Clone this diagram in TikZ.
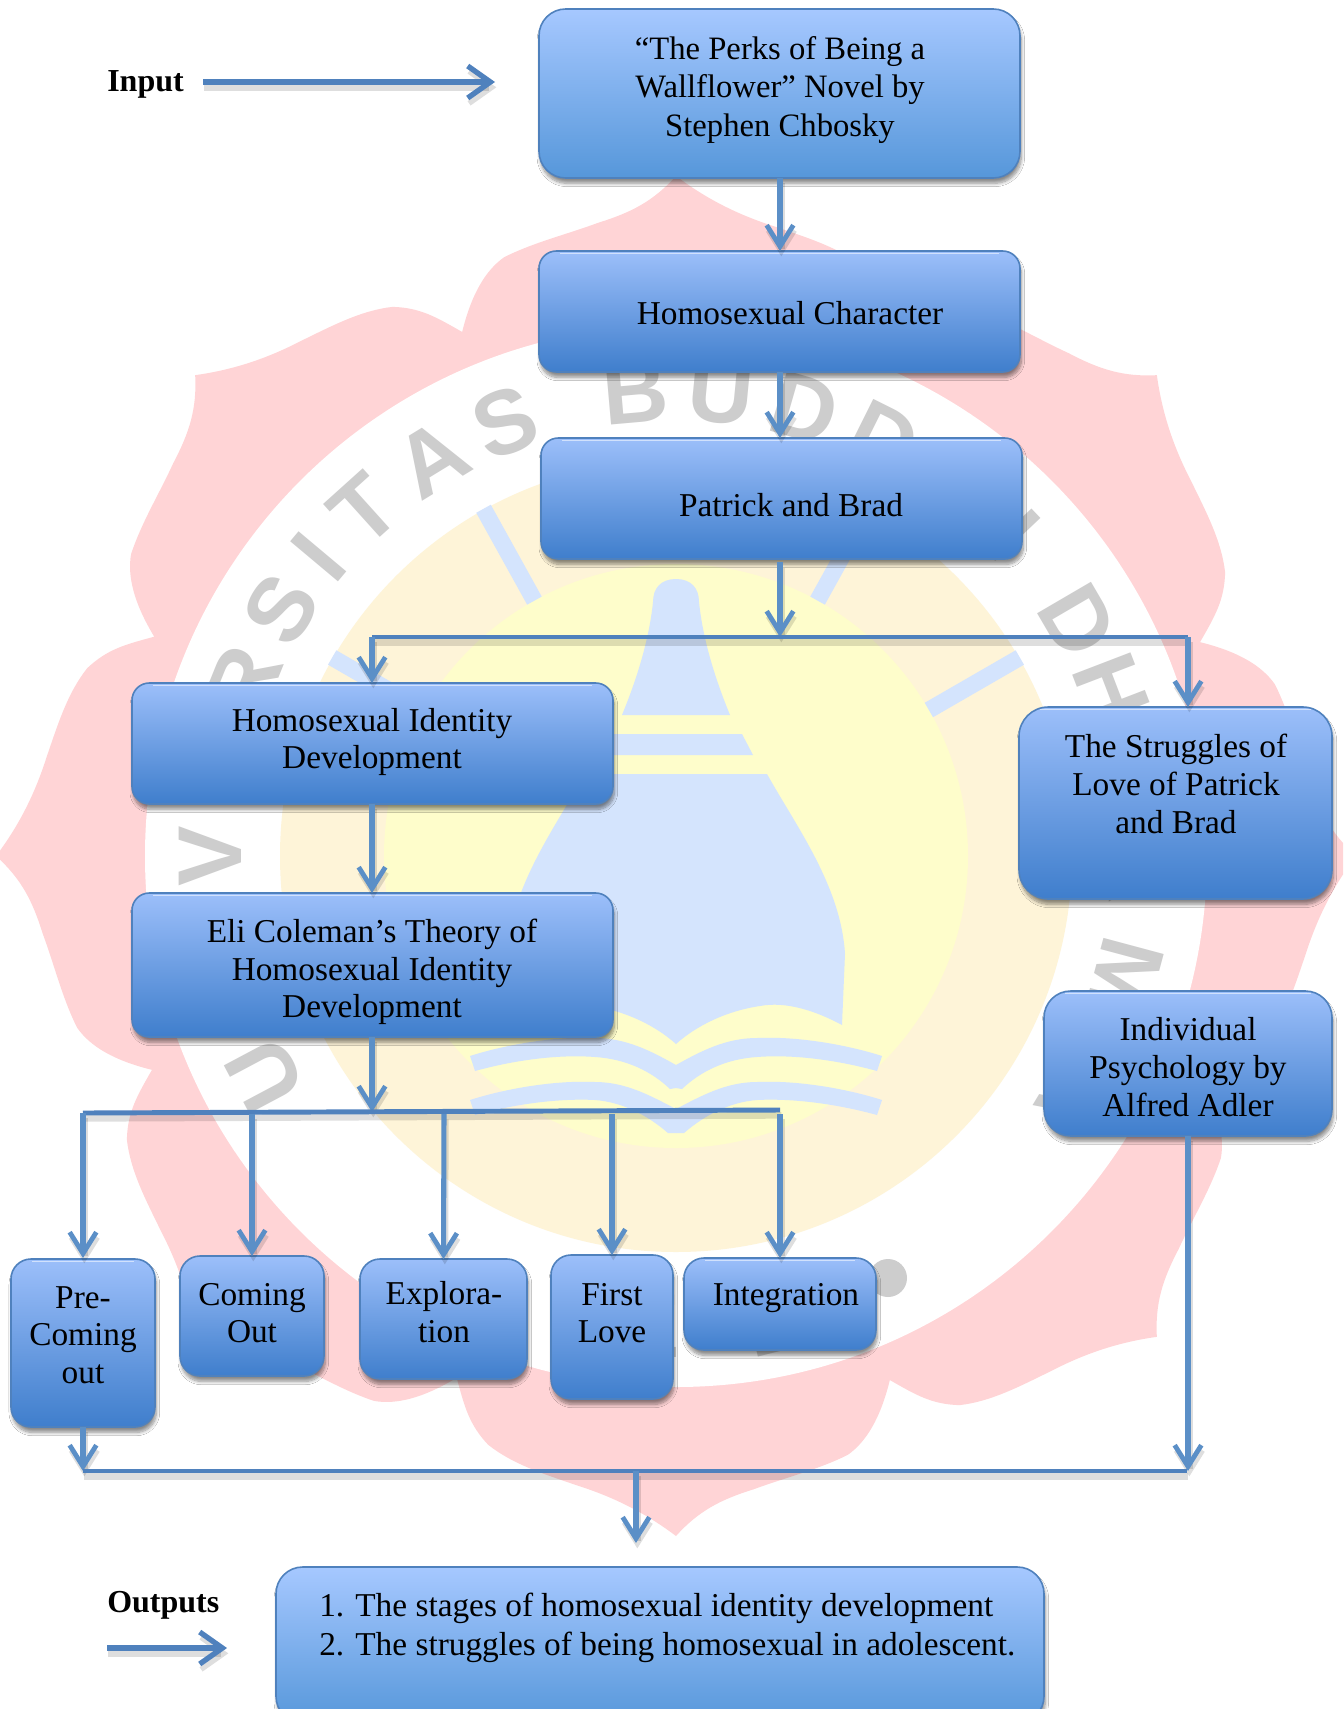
\documentclass[tikz,border=0pt]{standalone}
\usepackage{fontspec}
\setmainfont{Liberation Serif}
\newfontfamily\wmfont{Liberation Sans}
\usetikzlibrary{arrows.meta,shadows.blur}
\definecolor{sealpink}{HTML}{FFD4D6}
\definecolor{cream}{HTML}{FEF4D8}
\definecolor{paleyel}{HTML}{FEFDCB}
\definecolor{paleblue}{HTML}{D4E4FD}
\definecolor{wmgray}{HTML}{CDCDCD}
\definecolor{edge}{HTML}{4F81BD}
\definecolor{conn}{HTML}{5B8FC7}
\definecolor{boxtop}{HTML}{9CBFFA}
\definecolor{boxbot}{HTML}{3F7ECC}
\definecolor{lighttop}{HTML}{A6C8FF}
\definecolor{lightbot}{HTML}{5697DA}
\tikzset{
  x=0.75pt,y=-0.75pt,
  basebox/.style={draw=edge,line width=1.2pt,inner sep=0pt,outer sep=0pt,anchor=north west,
    blur shadow={shadow xshift=1pt,shadow yshift=-4pt,shadow blur radius=2.5pt,shadow blur steps=8,shadow opacity=45}},
  flowbox/.style={basebox,top color=boxtop,bottom color=boxbot,rounded corners=13pt},
  softbox/.style={basebox,top color=lighttop,bottom color=lightbot,rounded corners=20pt},
  txt/.style={align=center,inner sep=0pt,text=black,font=\fontsize{25pt}{28.2pt}\selectfont},
  toptxt/.style={align=center,inner sep=0pt,text=black,font=\fontsize{24.5pt}{28.6pt}\selectfont},
  txtl/.style={align=left,inner sep=0pt,text=black,font=\fontsize{25pt}{28.8pt}\selectfont},
  headtxt/.style={inner sep=0pt,anchor=west,text=black,font=\fontsize{24pt}{26pt}\selectfont\bfseries},
  wm/.style={text=wmgray,inner sep=0pt,font=\wmfont\bfseries\fontsize{68pt}{68pt}\selectfont},
  shadowed/.style={preaction={draw=black,draw opacity=.13,line width=5pt,transform canvas={xshift=1pt,yshift=-4pt}}},
  bar/.style={draw=edge,line width=3.7pt,shadowed},
  arr/.style={draw=conn,line width=3.8pt,shadowed,-{Straight Barb[length=16pt,width=20pt,line width=3.6pt]}},
  bigarr/.style={draw=edge,line width=4.2pt,shadowed,-{Straight Barb[length=17pt,width=24pt,line width=4pt]}},
  gloss/.style={draw=white,draw opacity=.55,line width=.7pt},
}
\begin{document}
\begin{tikzpicture}
\useasboundingbox (0,0) rectangle (1343,1709);
\clip (0,0) rectangle (1343,1709);
\fill[white] (0,0) rectangle (1343,1709);
% ---------- watermark seal
\begin{scope}[shift={(676,856)},x=0.75pt,y=0.75pt]
\fill[sealpink] (90:680) \foreach \a in {90,135,...,405}{
  .. controls ({\a+2}:655) and ({\a+4}:645) .. ({\a+7}:638)
  .. controls ({\a+10}:631) and ({\a+13}:630) .. ({\a+16}:623)
  .. controls ({\a+18}:616) and ({\a+20}:598) .. ({\a+22.2}:566)
  .. controls ({\a+24}:590) and ({\a+25}:605) .. ({\a+27.3}:618)
  .. controls ({\a+30}:630) and ({\a+33}:632) .. ({\a+36}:637)
  .. controls ({\a+39}:643) and ({\a+42}:655) .. ({\a+45}:680)
} -- cycle;
\fill[white] (0,0) circle (531);
\foreach \r/\l in {118/U,107/N,98/I,90/V,79/E,68/R,58/S,50/I,42/T,31.5/A,21.5/S,5/B,-5.5/U,-16/D,-26.5/D,-37/H,-46.5/I,-59.7/D,-69/H,-79/A,-92/R,-105/M,-121/A}
  \node[wm,rotate=\r] at ({90+\r}:466) {\l};
\fill[wmgray] (212,-422) circle (19);
\fill[cream] (0,0) circle (396);
\fill[paleyel] (0,0) circle (292);
\foreach \t in {29,60,-29,-60}
  \draw[paleblue,line width=12.5pt] ({90+\t}:292) -- ({90+\t}:397);
% stupa
\fill[paleblue] (0,277) .. controls (-15,277) and (-23,268) .. (-23,254)
  .. controls (-27,215) and (-40,175) .. (-54,141) -- (54,141)
  .. controls (40,175) and (27,215) .. (23,254)
  .. controls (23,268) and (15,277) .. (0,277) -- cycle;
\fill[paleblue] (-66,122) -- (66,122) -- (77,101) -- (-77,101) -- cycle;
\fill[paleblue] (-91,82) -- (91,82)
  .. controls (120,30) and (165,-30) .. (169,-98)
  -- (166,-169) .. controls (140,-155) and (110,-145) .. (84,-150)
  .. controls (50,-155) and (20,-170) .. (0,-188)
  .. controls (-20,-170) and (-50,-155) .. (-84,-150)
  .. controls (-110,-145) and (-140,-155) .. (-166,-169)
  -- (-169,-98) .. controls (-165,-30) and (-120,30) .. (-91,82) -- cycle;
% book
\foreach \s in {1,-1}{
  \fill[paleblue] (0,-209) .. controls (\s*25,-195) and (\s*50,-182) .. (\s*81,-182)
     .. controls (\s*125,-180) and (\s*175,-190) .. (\s*206,-200)
     -- (\s*201,-215) .. controls (\s*165,-205) and (\s*120,-198) .. (\s*81,-201)
     .. controls (\s*50,-203) and (\s*25,-215) .. (\s*6,-233) -- (0,-232) -- cycle;
  \fill[paleblue] (0,-253) .. controls (\s*25,-240) and (\s*50,-226) .. (\s*81,-226)
     .. controls (\s*125,-224) and (\s*175,-234) .. (\s*206,-244)
     -- (\s*201,-259) .. controls (\s*165,-249) and (\s*120,-242) .. (\s*81,-244)
     .. controls (\s*55,-246) and (\s*30,-258) .. (\s*8,-277) -- (0,-277) -- cycle;
}
\end{scope}
% fragments of the lettering at the foot of the seal
\node[wm] (wmE) at (650,1326) {E};
\node[wm,rotate=14] (wmL) at (772,1322) {L};
% ---------- boxes
\node[softbox,minimum width=481*0.75pt,minimum height=169*0.75pt] (top) at (539,9) {};
\node[flowbox,minimum width=481*0.75pt,minimum height=121*0.75pt] (hc) at (539,251) {};
\node[flowbox,minimum width=481*0.75pt,minimum height=121*0.75pt] (pb) at (541,438) {};
\node[flowbox,minimum width=481*0.75pt,minimum height=121*0.75pt] (hid) at (132,683) {};
\node[flowbox,minimum width=481*0.75pt,minimum height=144*0.75pt] (eli) at (132,893) {};
\node[flowbox,rounded corners=22pt,minimum width=313*0.75pt,minimum height=192*0.75pt] (sl) at (1019,707) {};
\node[flowbox,rounded corners=20pt,minimum width=288*0.75pt,minimum height=145*0.75pt] (ip) at (1044,991) {};
\node[flowbox,rounded corners=15pt,minimum width=144*0.75pt,minimum height=168*0.75pt] (pre) at (11,1259) {};
\node[flowbox,rounded corners=15pt,minimum width=144*0.75pt,minimum height=120*0.75pt] (co) at (180,1256) {};
\node[flowbox,rounded corners=15pt,minimum width=167*0.75pt,minimum height=120*0.75pt] (ex) at (360,1259) {};
\node[flowbox,rounded corners=15pt,minimum width=122*0.75pt,minimum height=144*0.75pt] (fl) at (551,1255) {};
\node[flowbox,rounded corners=15pt,minimum width=192*0.75pt,minimum height=92*0.75pt] (ig) at (684,1258) {};
\node[softbox,minimum width=768*0.75pt,minimum height=156*0.75pt] (out) at (276,1567) {};
% thin highlight under the top edge of the boxes
\foreach \b in {hc,pb,hid,eli,sl,ip,pre,ig}
  \draw[gloss] ([xshift=16pt,yshift=-2.2pt]\b.north west) -- ([xshift=-16pt,yshift=-2.2pt]\b.north east);
% ---------- box texts
\node[toptxt] (ttop) at (780,90) {“The Perks of Being a\\Wallflower” Novel by\\Stephen Chbosky};
\node[txt] (thc) at (790,313) {Homosexual Character};
\node[txt] (tpb) at (791,505) {Patrick and Brad};
\node[txt] (thid) at (372,742) {Homosexual Identity\\Development};
\node[txt] (teli) at (372,972) {Eli Coleman’s Theory of\\Homosexual Identity\\Development};
\node[txt] (tsl) at (1176,784) {The Struggles of\\Love of Patrick\\and Brad};
\node[txt] (tip) at (1188,1067) {Individual\\Psychology by\\Alfred Adler};
\node[txt] (tpre) at (83,1335) {Pre-\\Coming\\out};
\node[txt] (tco) at (252,1313) {Coming\\Out};
\node[txt] (tex) at (444,1312) {Explora-\\tion};
\node[txt] (tfl) at (612,1313) {First\\Love};
\node[txt] (tig) at (786,1298) {Integration};
\node[txtl,anchor=west] (tout) at (319,1628) {1. The stages of homosexual identity development\\2. The struggles of being homosexual in adolescent.};
\node[headtxt] (input) at (107,84) {Input};
\node[headtxt] (outputs) at (107,1605) {Outputs};
% ---------- free connector ends
\coordinate (inA) at (203,82);
\coordinate (inB) at (495,82);
\coordinate (outA) at (107,1648);
\coordinate (outB) at (227,1648);
\coordinate (j1) at (780,637);
\coordinate (j1l) at (372,637);
\coordinate (j1r) at (1188,637);
\coordinate (j2) at (372,1112);
\coordinate (j2l) at (83,1113);
\coordinate (j2r) at (780,1110);
\coordinate (j3l) at (83,1471);
\coordinate (j3m) at (636,1471);
\coordinate (j3r) at (1187,1471);
\coordinate (j3t) at (636,1543);
% ---------- connectors
\draw[bigarr] (inA) -- (inB);
\draw[bigarr] (outA) -- (outB);
\draw[arr] (top.south -| j1) -- (hc.north -| j1);
\draw[arr] (hc.south -| j1) -- (pb.north -| j1);
\draw[arr] ([yshift=-2.5pt]pb.south -| j1) -- (j1);
\draw[bar] (j1l) -- (j1r);
\draw[arr] (j1l) -- (hid.north -| j1l);
\draw[arr] (j1r) -- (sl.north -| j1r);
\draw[arr] (hid.south -| j1l) -- (eli.north -| j1l);
\draw[arr] (eli.south -| j1l) -- (j2);
\draw[bar] (j2l) -- (j2r);
\draw[arr] (j2l) -- (83,1258);
\draw[arr] (252,1114) -- (co.north);
\draw[arr] (444,1114) -- (ex.north);
\draw[arr] (612,1114) -- (fl.north);
\draw[arr] (780,1114) -- (ig.north -| j1);
\draw[arr] (pre.south -| j3l) -- (j3l);
\draw[arr] (ip.south -| j1r) -- (1188,1471);
\draw[bar] (j3l) -- (j3r);
\draw[arr] (j3m) -- (j3t);
\end{tikzpicture}
\end{document}
